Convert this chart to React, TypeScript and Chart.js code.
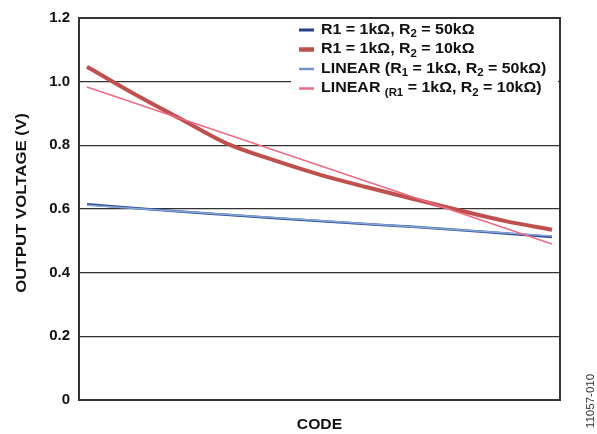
import React, { useEffect, useRef } from "react";
import { Chart, registerables } from "chart.js";

Chart.register(...registerables);

// ---- data ----
const CODES = [0, 10, 20, 30, 40, 50, 60, 70, 80, 90, 100];
const R2_50K = [0.615, 0.603, 0.592, 0.582, 0.572, 0.562, 0.553, 0.544, 0.534, 0.523, 0.512];
const R2_10K = [1.047, 0.963, 0.884, 0.806, 0.754, 0.708, 0.669, 0.632, 0.596, 0.562, 0.535];
const LIN_CODES = [0, 100];
const LIN_50K = [0.612, 0.515];
const LIN_10K = [0.983, 0.49];
const Y_TICKS = [0, 0.2, 0.4, 0.6, 0.8, 1.0, 1.2];
const X_TITLE = "CODE";
const Y_TITLE = "OUTPUT VOLTAGE (V)";
const STAMP = "11057-010";
// legend: segments [text, isSubscript]
const LEGEND_COLORS = ["#253E8C", "#C0504D", "#7394CB", "#EE6A84"];
const LEGEND_WIDTHS = [3, 4.5, 2.5, 2.5];
const LEGEND_LABELS: [string, boolean][][] = [
  [["R1 = 1kΩ, R", false], ["2", true], [" = 50kΩ", false]],
  [["R1 = 1kΩ, R", false], ["2", true], [" = 10kΩ", false]],
  [["LINEAR (R", false], ["1", true], [" = 1kΩ, R", false], ["2", true], [" = 50kΩ)", false]],
  [["LINEAR ", false], ["(R1", true], [" = 1kΩ, R", false], ["2", true], [" = 10kΩ)", false]],
];

const FONT = '"Liberation Sans", Arial, sans-serif';

function stretchedText(ctx: CanvasRenderingContext2D, text: string, x: number, y: number, sx: number) {
  ctx.save();
  ctx.translate(x, y);
  ctx.scale(sx, 1);
  ctx.fillText(text, 0, 0);
  ctx.restore();
  return ctx.measureText(text).width * sx;
}

const decorPlugin = {
  id: "decor",
  afterDraw(chart: any) {
    const ctx: CanvasRenderingContext2D = chart.ctx;
    const a = chart.chartArea;
    ctx.save();
    // frame
    ctx.strokeStyle = "#333";
    ctx.lineWidth = 2;
    ctx.strokeRect(a.left, a.top, a.right - a.left, a.bottom - a.top);

    // legend
    ctx.fillStyle = "#fff";
    ctx.fillRect(291, 19, 267, 80);
    const rows = [30, 49.5, 69, 88.5];
    LEGEND_LABELS.forEach((segs, i) => {
      const y = rows[i];
      ctx.strokeStyle = LEGEND_COLORS[i];
      ctx.lineWidth = LEGEND_WIDTHS[i];
      ctx.beginPath();
      ctx.moveTo(299, y);
      ctx.lineTo(314, y);
      ctx.stroke();
      let x = 321;
      ctx.fillStyle = "#111";
      ctx.textBaseline = "middle";
      ctx.textAlign = "left";
      segs.forEach(([t, sub]) => {
        ctx.font = sub ? `bold 10px ${FONT}` : `bold 14px ${FONT}`;
        x += stretchedText(ctx, t, x, sub ? y + 4.5 : y, 1.14);
      });
    });

    // titles
    ctx.fillStyle = "#111";
    ctx.textAlign = "center";
    ctx.textBaseline = "middle";
    ctx.font = `bold 14px ${FONT}`;
    ctx.save();
    ctx.translate(22, 203);
    ctx.rotate(-Math.PI / 2);
    ctx.scale(1.2, 1);
    ctx.fillText(Y_TITLE, 0, 0);
    ctx.restore();

    ctx.font = `bold 14px ${FONT}`;
    ctx.save();
    ctx.translate((a.left + a.right) / 2, 425);
    ctx.scale(1.12, 1);
    ctx.fillText(X_TITLE, 0, 0);
    ctx.restore();

    ctx.font = `11px ${FONT}`;
    ctx.fillStyle = "#333";
    ctx.save();
    ctx.translate(591, 401);
    ctx.rotate(-Math.PI / 2);
    ctx.scale(1.05, 1);
    ctx.fillText(STAMP, 0, 0);
    ctx.restore();
    ctx.restore();
  },
};

export default function App() {
  const ref = useRef<HTMLCanvasElement>(null);
  useEffect(() => {
    if (!ref.current) return;
    const pts = (xs: number[], ys: number[]) => xs.map((x, i) => ({ x, y: ys[i] }));
    const chart = new Chart(ref.current, {
      type: "line",
      data: {
        datasets: [
          { label: "R1 = 1kΩ, R2 = 10kΩ", data: pts(CODES, R2_10K), borderColor: "#C0504D", borderWidth: 4, pointRadius: 0, cubicInterpolationMode: "monotone", order: 4 },
          { label: "R1 = 1kΩ, R2 = 50kΩ", data: pts(CODES, R2_50K), borderColor: "#2E4D9A", borderWidth: 2.5, pointRadius: 0, cubicInterpolationMode: "monotone", order: 3 },
          { label: "LINEAR 50k", data: pts(LIN_CODES, LIN_50K), borderColor: "#88A6D6", borderWidth: 1.5, pointRadius: 0, order: 2 },
          { label: "LINEAR 10k", data: pts(LIN_CODES, LIN_10K), borderColor: "#EE6A84", borderWidth: 1.5, pointRadius: 0, order: 1 },
        ],
      },
      options: {
        responsive: false,
        animation: false,
        layout: { padding: { top: 15, right: 37, bottom: 0, left: 0 } },
        plugins: { legend: { display: false }, tooltip: { enabled: false } },
        scales: {
          x: {
            type: "linear",
            min: -1.72,
            max: 101.72,
            grid: { display: false },
            border: { display: false },
            ticks: { display: false },
            afterFit: (s: any) => { s.height = 34; },
          },
          y: {
            min: 0,
            max: 1.2,
            afterBuildTicks: (s: any) => { s.ticks = Y_TICKS.map((v) => ({ value: v })); },
            afterFit: (s: any) => { s.width = 79; },
            grid: { color: "#333", lineWidth: 1.3, drawTicks: false },
            border: { display: false },
            ticks: {
              padding: 9,
              color: "#111",
              font: { family: FONT, size: 15, weight: "bold" },
              callback: (v: any) => (Number(v) === 0 ? "0" : Number(v).toFixed(1)),
            },
          },
        },
      },
      plugins: [decorPlugin],
    } as any);
    return () => chart.destroy();
  }, []);
  return (
    <div style={{ position: "fixed", left: 0, top: 0, width: 597, height: 434, background: "#fff" }}>
      <canvas ref={ref} width={597} height={434} style={{ display: "block" }} />
    </div>
  );
}
